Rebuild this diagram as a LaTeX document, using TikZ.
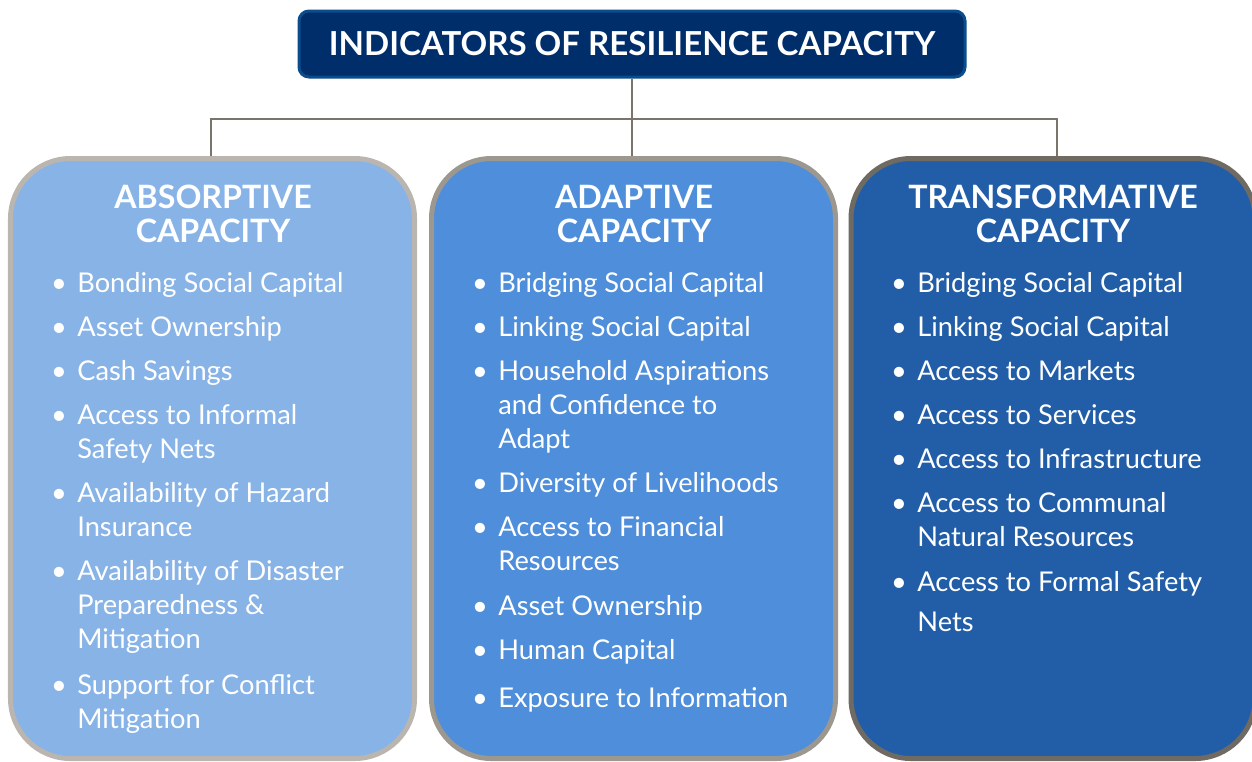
\documentclass[tikz,border=0pt]{standalone}
\usepackage{fontspec}
\setmainfont{Lato}
\usepackage{xcolor}
\usepackage{tikz}

\definecolor{titlefill}{HTML}{002E6B}
\definecolor{titleline}{HTML}{0A4C8C}
\definecolor{absfill}{HTML}{88B3E7}
\definecolor{absline}{HTML}{BAB6AF}
\definecolor{adpfill}{HTML}{4F8EDA}
\definecolor{adpline}{HTML}{9C978F}
\definecolor{trnfill}{HTML}{225EA8}
\definecolor{trnline}{HTML}{6F6A62}
\definecolor{linkgray}{HTML}{7A746B}

\tikzset{
  panel/.style={rounded corners=12mm, line width=1mm, minimum width=80.8mm, minimum height=120mm},
  head/.style={anchor=north, inner sep=0pt, align=center, text=white, font=\fontsize{18.3}{19.3}\selectfont\bfseries},
  item/.style={anchor=north west, inner sep=0pt, align=left, text=white, font=\fontsize{15.5}{19.3}\selectfont},
  link/.style={draw=linkgray, line width=0.4mm}
}
\newcommand{\bul}{\llap{\textbullet\hspace{6pt}}}

\begin{document}
\begin{tikzpicture}[x=0.2mm, y=-0.2mm]
\useasboundingbox (0,0) rectangle (1252,761);
% title box
\node[draw=titleline, fill=titlefill, line width=0.6mm, rounded corners=2mm, minimum width=133.2mm, minimum height=13.2mm, text=white, font=\fontsize{18.8}{20}\selectfont\bfseries] (title) at (632,44) {INDICATORS OF RESILIENCE CAPACITY};
% the three capacities
\node[panel, draw=absline, fill=absfill] (absorptive) at (212.5,458.5) {};
\node[panel, draw=adpline, fill=adpfill] (adaptive) at (633.5,458.5) {};
\node[panel, draw=trnline, fill=trnfill, minimum width=80.8mm] (transformative) at (1053,458.5) {};
% connectors
\coordinate (hub) at (632,119);
\draw[link] (title.south) -- (hub);
\draw[link] (hub) -- (hub |- adaptive.north);
\draw[link] (absorptive.north -| 211,0) |- (hub) -| (transformative.north -| 1057,0);
% headings
\node[head] (abshead) at (213,185) {ABSORPTIVE\\CAPACITY};
\node[head] (adphead) at (634,185) {ADAPTIVE\\CAPACITY};
\node[head] (trnhead) at (1053,185) {TRANSFORMATIVE\\CAPACITY};
% absorptive items
\node[item] (abs1) at (77,272) {\bul Bonding Social Capital};
\node[item] (abs2) at (77,316) {\bul Asset Ownership};
\node[item] (abs3) at (77,360) {\bul Cash Savings};
\node[item] (abs4) at (77,404) {\bul Access to Informal\\Safety Nets};
\node[item] (abs5) at (77,482) {\bul Availability of Hazard\\Insurance};
\node[item] (abs6) at (77,560) {\bul Availability of Disaster\\Preparedness \&\\Mitigation};
\node[item] (abs7) at (77,674) {\bul Support for Conflict\\Mitigation};
% adaptive items
\node[item] (adp1) at (498,272) {\bul Bridging Social Capital};
\node[item] (adp2) at (498,316) {\bul Linking Social Capital};
\node[item] (adp3) at (498,360) {\bul Household Aspirations\\and Confidence to\\Adapt};
\node[item] (adp4) at (498,472) {\bul Diversity of Livelihoods};
\node[item] (adp5) at (498,516) {\bul Access to Financial\\Resources};
\node[item] (adp6) at (498,595) {\bul Asset Ownership};
\node[item] (adp7) at (498,639) {\bul Human Capital};
\node[item] (adp8) at (498,687) {\bul Exposure to Information};
% transformative items
\node[item] (trn1) at (917,272) {\bul Bridging Social Capital};
\node[item] (trn2) at (917,316) {\bul Linking Social Capital};
\node[item] (trn3) at (917,360) {\bul Access to Markets};
\node[item] (trn4) at (917,404) {\bul Access to Services};
\node[item] (trn5) at (917,448) {\bul Access to Infrastructure};
\node[item] (trn6) at (917,492) {\bul Access to Communal\\Natural Resources};
\node[item] (trn7) at (917,571) {\bul Access to Formal Safety\\[3.4pt]Nets};
\end{tikzpicture}
\end{document}
